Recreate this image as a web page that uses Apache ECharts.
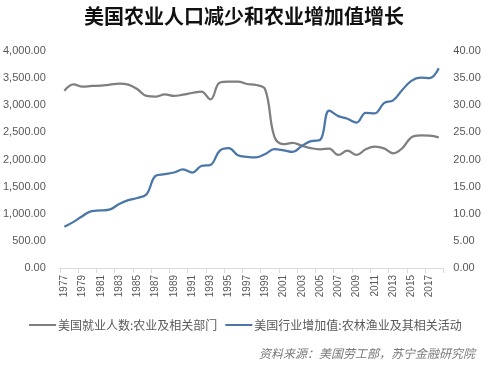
<!DOCTYPE html>
<html>
<head>
<meta charset="utf-8">
<script src="https://cdn.jsdelivr.net/npm/echarts@6/dist/echarts.min.js"></script>
<style>
html,body{margin:0;padding:0;background:#fff;}
#c{width:488px;height:369px;}
</style>
</head>
<body>
<div id="c"></div>
<script>
var years = [];
for (var y = 1977; y <= 2018; y++) years.push(String(y));

// 美国就业人数:农业及相关部门 (left axis)
var employment = [3268, 3386, 3342, 3355, 3361, 3380, 3398, 3380, 3294, 3171,
  3158, 3202, 3171, 3195, 3226, 3250, 3109, 3416, 3435, 3435,
  3392, 3373, 3290, 2420, 2284, 2305, 2256, 2209, 2188, 2200,
  2083, 2162, 2083, 2188, 2236, 2206, 2114, 2206, 2409, 2446,
  2439, 2409];

// 美国行业增加值:农林渔业及其相关活动 (right axis)
var valueAdded = [7.6, 8.5, 9.6, 10.5, 10.6, 10.8, 11.8, 12.5, 12.9, 13.6,
  17.0, 17.3, 17.6, 18.2, 17.6, 18.8, 19.0, 21.6, 22.1, 20.8,
  20.5, 20.4, 21.0, 21.9, 21.7, 21.4, 22.5, 23.4, 23.6, 29.0,
  28.0, 27.5, 26.8, 28.6, 28.5, 30.4, 30.9, 32.8, 34.5, 35.1,
  35.0, 36.8];

var leftTicks = {min: 0, max: 4000, interval: 500};
var rightTicks = {min: 0, max: 40, interval: 5};

var seriesNames = ['美国就业人数:农业及相关部门', '美国行业增加值:农林渔业及其相关活动'];
var titleText = '美国农业人口减少和农业增加值增长';
var sourceText = '资料来源：美国劳工部，苏宁金融研究院';

var chart = echarts.init(document.getElementById('c'));
function fmt2(v) {
  var s = v.toFixed(2);
  var parts = s.split('.');
  parts[0] = parts[0].replace(/\B(?=(\d{3})+(?!\d))/g, ',');
  return parts.join('.');
}
var axisColor = '#595959';
chart.setOption({
  animation: false,
  backgroundColor: '#fff',
  title: {
    text: titleText,
    left: 'center',
    top: 1,
    textStyle: {fontFamily: 'Noto Sans CJK SC', fontWeight: 'bold', fontSize: 20, color: '#111'}
  },
  graphic: [{
    type: 'text',
    right: 13,
    top: 347,
    style: {text: sourceText, font: 'italic 12px "Noto Sans CJK SC"', fill: '#7a7a7a'}
  }],
  legend: {
    left: 24,
    top: 314,
    itemGap: 8,
    itemWidth: 27,
    itemHeight: 2,
    icon: 'rect',
    textStyle: {fontFamily: 'Noto Sans CJK SC', fontSize: 12, color: axisColor, padding: [0, 0, 0, -3]},
    data: seriesNames
  },
  grid: {left: 59.3, right: 44.7, top: 51, bottom: 101, containLabel: false},
  xAxis: {
    type: 'category',
    data: years,
    boundaryGap: true,
    axisLine: {show: true, lineStyle: {color: '#d9d9d9', width: 1}},
    axisTick: {show: true, interval: 1, length: 5, lineStyle: {color: '#d9d9d9'}},
    axisLabel: {interval: 1, rotate: 90, margin: 7, fontSize: 10, color: axisColor, fontFamily: 'Liberation Sans'},
    splitLine: {show: false}
  },
  yAxis: [{
    type: 'value',
    min: leftTicks.min, max: leftTicks.max, interval: leftTicks.interval,
    axisLine: {show: false}, axisTick: {show: false}, splitLine: {show: false},
    axisLabel: {margin: 14, fontSize: 11, color: axisColor, fontFamily: 'Liberation Sans', formatter: fmt2}
  }, {
    type: 'value',
    min: rightTicks.min, max: rightTicks.max, interval: rightTicks.interval,
    axisLine: {show: false}, axisTick: {show: false}, splitLine: {show: false},
    axisLabel: {margin: 10, fontSize: 11, color: axisColor, fontFamily: 'Liberation Sans', formatter: fmt2}
  }],
  series: [{
    name: seriesNames[0],
    type: 'line',
    yAxisIndex: 0,
    data: employment,
    smooth: 0.4,
    symbol: 'none',
    lineStyle: {color: '#7f7f7f', width: 2.25},
    itemStyle: {color: '#7f7f7f'}
  }, {
    name: seriesNames[1],
    type: 'line',
    yAxisIndex: 1,
    data: valueAdded,
    smooth: 0.4,
    symbol: 'none',
    lineStyle: {color: '#4a76aa', width: 2.25},
    itemStyle: {color: '#4a76aa'}
  }]
});
</script>
</body>
</html>
